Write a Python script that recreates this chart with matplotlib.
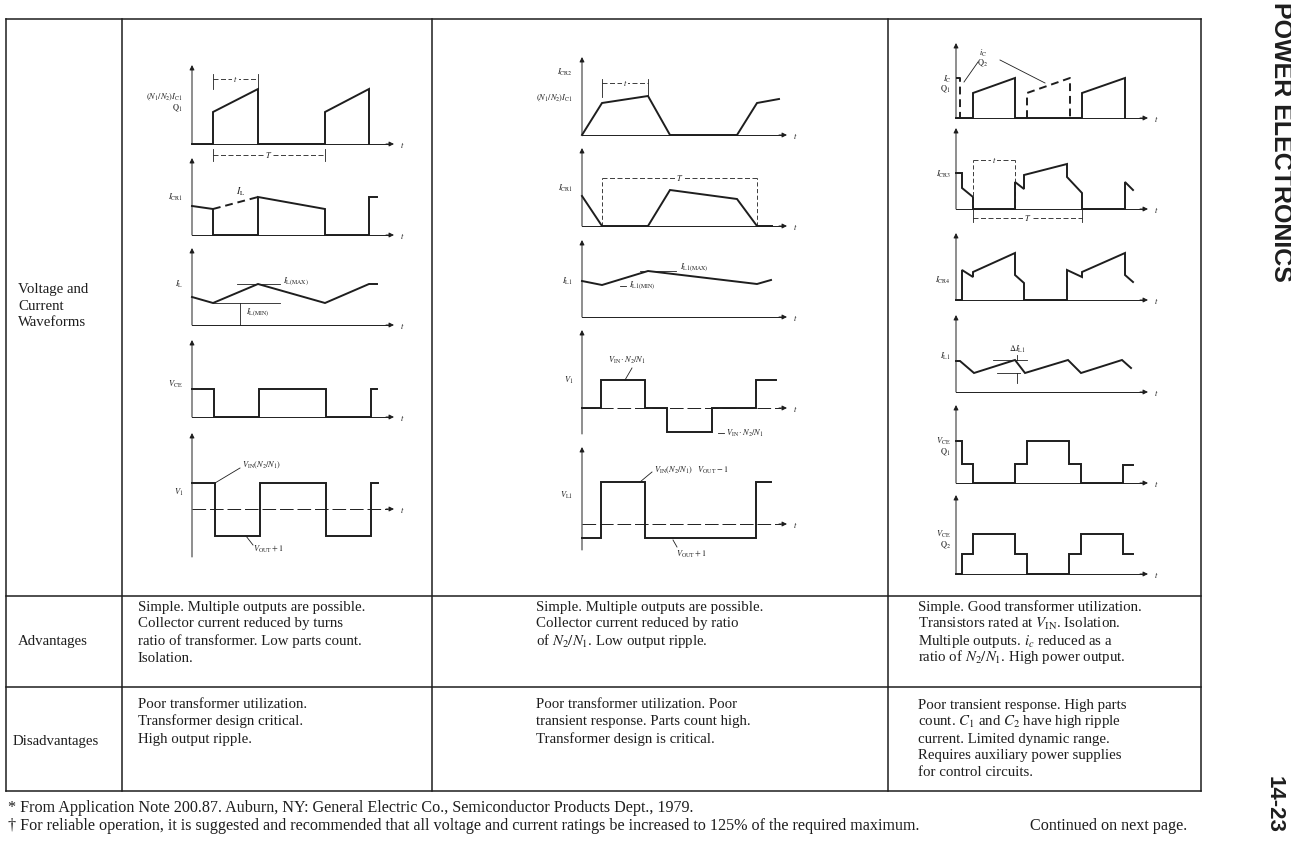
import matplotlib
matplotlib.use("Agg")
import matplotlib.pyplot as plt

W, H = 1291, 846
INK = '#1e1e1e'

plt.rcParams['font.family'] = ['Liberation Serif', 'DejaVu Serif']
plt.rcParams['mathtext.fontset'] = 'stix'

# ---------------- table text ----------------
row_titles = ["Voltage and", "Current", "Waveforms", "Advantages", "Disadvantages"]

adv_col1 = ["Simple. Multiple outputs are possible.",
            "Collector current reduced by turns",
            "ratio of transformer. Low parts count.",
            "Isolation."]
dis_col1 = ["Poor transformer utilization.",
            "Transformer design critical.",
            "High output ripple."]
adv_col2 = ["Simple. Multiple outputs are possible.",
            "Collector current reduced by ratio",
            r"of $N_2/N_1$. Low output ripple."]
dis_col2 = ["Poor transformer utilization. Poor",
            "transient response. Parts count high.",
            "Transformer design is critical."]
adv_col3 = ["Simple. Good transformer utilization.",
            r"Transistors rated at $V_{\rm IN}$. Isolation.",
            r"Multiple outputs. $i_c$ reduced as a",
            r"ratio of $N_2/N_1$. High power output."]
dis_col3 = ["Poor transient response. High parts",
            r"count. $C_1$ and $C_2$ have high ripple",
            "current. Limited dynamic range.",
            "Requires auxiliary power supplies",
            "for control circuits."]

footnotes = ["* From Application Note 200.87. Auburn, NY: General Electric Co., Semiconductor Products Dept., 1979.",
             "\u2020 For reliable operation, it is suggested and recommended that all voltage and current ratings be increased to 125% of the required maximum."]
continued = "Continued on next page."
side_title = "POWER ELECTRONICS"
page_no = "14-23"

# ---------------- waveforms: time / level (arbitrary units) ----------------
# column 1
c1_ic_t = [0, 21, 21, 66, 66, 133, 133, 177, 177]
c1_ic_y = [0, 0, 32, 55, 0, 0, 32, 55, 0]
c1_icr1_t = [0, 21, 21, 66, 66, 133, 133, 177, 177, 185]
c1_icr1_y = [29, 26, 0, 0, 38, 26, 0, 0, 38, 38]
c1_icr1_dash_t = [21, 66]
c1_icr1_dash_y = [26, 38]
c1_il_t = [0, 21, 66, 133, 177, 185]
c1_il_y = [28, 22, 41, 22, 41, 41]
c1_vce_t = [0, 22, 22, 67, 67, 134, 134, 179, 179, 185]
c1_vce_y = [28, 28, 0, 0, 28, 28, 0, 0, 28, 28]
c1_v1_t = [0, 23, 23, 68, 68, 134, 134, 179, 179, 186]
c1_v1_y = [26, 26, -27, -27, 26, 26, -27, -27, 26, 26]

# column 2
c2_icr2_t = [0, 20, 66, 88, 155, 175, 197]
c2_icr2_y = [0, 32, 39, 0, 0, 32, 36]
c2_icr1_t = [0, 20, 66, 88, 155, 175, 190]
c2_icr1_y = [30, 0, 0, 36, 27, 0, 0]
c2_il1_t = [0, 20, 66, 175, 189]
c2_il1_y = [36, 32, 46, 33, 37]
c2_v1_t = [0, 19, 19, 63, 63, 85, 85, 130, 130, 174, 174, 194]
c2_v1_y = [0, 0, 28, 28, 0, 0, -24, -24, 0, 0, 28, 28]
c2_vl1_t = [0, 19, 19, 63, 63, 174, 174, 189]
c2_vl1_y = [-14, -14, 42, 42, -14, -14, 42, 42]

# column 3
c3_ic_t = [0, 17, 17, 59, 59, 126, 126, 169, 169]
c3_ic_y = [0, 0, 25, 40, 0, 0, 25, 40, 0]
c3_ic2_t = [71, 71, 114, 114]
c3_ic2_y = [0, 25, 40, 0]
c3_ic2_head_t = [0, 4, 4]
c3_ic2_head_y = [40, 40, 0]
c3_icr3_t = [0, 6, 6, 17, 17, 59, 59, 68, 68, 111, 111, 126, 126, 169, 169, 177]
c3_icr3_y = [36, 36, 21, 12, 0, 0, 27, 20, 34, 45, 32, 16, 0, 0, 27, 19]
c3_icr4_t = [0, 6, 6, 17, 17, 59, 59, 68, 68, 111, 111, 126, 126, 169, 169, 177]
c3_icr4_y = [0, 0, 30, 23, 28, 47, 25, 17, 0, 0, 30, 23, 28, 47, 25, 18]
c3_il1_t = [0, 4, 18, 59, 69, 112, 125, 166, 175]
c3_il1_y = [31, 31, 19, 32, 19, 32, 19, 32, 24]
c3_vce1_t = [0, 6, 6, 17, 17, 59, 59, 71, 71, 113, 113, 125, 125, 167, 167, 177]
c3_vce1_y = [42, 42, 19, 19, 0, 0, 19, 19, 42, 42, 19, 19, 0, 0, 18, 18]
c3_vce2_t = [0, 6, 6, 17, 17, 59, 59, 71, 71, 113, 113, 125, 125, 167, 167, 177]
c3_vce2_y = [0, 0, 20, 20, 40, 40, 20, 20, 0, 0, 20, 20, 40, 40, 20, 20]

# thin annotation segments ((t0, y0), (t1, y1))
c1_il_marks = [((45, 41), (88, 41)), ((21, 22), (88, 22)), ((48, 0), (48, 22))]
c1_v1_marks = [((23, 26), (48, 41)), ((54, -27), (61, -36))]
c2_il1_marks = [((58, 46), (94, 46)), ((38, 31), (44, 31))]
c2_v1_marks = [((43, 28), (50, 40)), ((136, -25), (142, -25))]
c2_vl1_marks = [((58, 42), (70, 52)), ((91, -16), (95, -23))]
c3_ic_marks = [((8, 36), (22, 56)), ((44, 58), (89, 35))]
c3_il1_marks = [((37, 32), (71, 32)), ((41, 19), (64, 19)), ((61, 32), (61, 37)), ((61, 19), (61, 9))]

# ---------------- layout (pixels) ----------------
col_x = [6, 122, 432, 888, 1201]
row_y = [19, 596, 687, 791]

fig = plt.figure(figsize=(W / 100, H / 100), dpi=100)
bg = fig.add_axes([0, 0, 1, 1])
bg.set_xlim(0, W)
bg.set_ylim(H, 0)
bg.axis('off')

for x in col_x:
    bg.plot([x, x], [row_y[0], row_y[-1]], color=INK, lw=1.1)
for y in row_y:
    bg.plot([col_x[0], col_x[-1]], [y, y], color=INK, lw=1.1)

fs = 10.7
fs_note = 11.6
base = 4.5   # baseline offset below the line centre


def put(x, y, s, size=fs):
    bg.text(x, y + base, s, fontsize=size, va='baseline', ha='left', color=INK)


for s, y in zip(row_titles[:3], [289, 305, 321]):
    put(18, y, s)
put(18, 641, row_titles[3])
put(13, 741, row_titles[4])

for lines, x, y0 in [(adv_col1, 138, 606), (dis_col1, 138, 704),
                     (adv_col2, 536, 606), (dis_col2, 536, 704),
                     (adv_col3, 918, 606), (dis_col3, 918, 704)]:
    for i, s in enumerate(lines):
        put(x, y0 + 17 * i, s)

put(8, 808, footnotes[0], fs_note)
put(8, 826, footnotes[1], fs_note)
put(1030, 826, continued, fs_note)

bg.text(1281, 142, side_title, rotation=-90, fontsize=18, fontweight='bold',
        family='Liberation Sans', ha='center', va='center', color=INK)
bg.text(1274, 804, page_no, rotation=-90, fontsize=16, fontweight='bold',
        family='Liberation Sans', ha='center', va='center', color=INK)


def panel(x0, y0, top, w, bottom=None, dashed=False):
    """Small waveform axes, one data unit = one pixel, origin at (x0, y0)."""
    up = y0 - top
    down = 0 if bottom is None else bottom - y0
    ax = fig.add_axes([(x0 - 80) / W, 1 - (y0 + 70) / H, (w + 100) / W, (up + 80) / H])
    ax.set_xlim(-80, w + 20)
    ax.set_ylim(-70, up + 10)
    ax.axis('off')
    ax.annotate('', xy=(0, up), xytext=(0, -down),
                arrowprops=dict(arrowstyle='-|>', lw=0.7, color=INK, mutation_scale=7,
                                shrinkA=0, shrinkB=0), annotation_clip=False)
    ax.plot([0, w - 6], [0, 0], color=INK, lw=0.7, ls=(0, (14, 4)) if dashed else '-',
            clip_on=False)
    ax.annotate('', xy=(w, 0), xytext=(w - 8, 0),
                arrowprops=dict(arrowstyle='-|>', lw=0.7, color=INK, mutation_scale=7,
                                shrinkA=0, shrinkB=0), annotation_clip=False)
    ax.text(w + 6, -1, '$t$', fontsize=6, va='center', ha='left', color=INK)
    return ax


def wave(ax, t, y, dashed=False):
    ax.plot(t, y, color=INK, lw=1.4, ls=(0, (4, 2.5)) if dashed else '-',
            solid_joinstyle='miter', clip_on=False)


def marks(ax, segs):
    for (a, b) in segs:
        ax.plot([a[0], b[0]], [a[1], b[1]], color=INK, lw=0.6, clip_on=False)


def label(ax, x, y, s, ha='right', size=6):
    ax.text(x, y, s, fontsize=size, ha=ha, va='center', color=INK)


def dim(ax, t0, t1, y, s, lo, hi, dashed_ticks=False):
    ax.plot([t0, t1], [y, y], color=INK, lw=0.6, ls=(0, (6, 3)), clip_on=False)
    for t in (t0, t1):
        ax.plot([t, t], [lo, hi], color=INK, lw=0.6,
                ls=(0, (5, 3)) if dashed_ticks else '-', clip_on=False)
    ax.text((t0 + t1) / 2, y, s, fontsize=6, ha='center', va='center', color=INK,
            bbox=dict(fc='white', ec='none', pad=0.6))


# ---- column 1
ax = panel(192, 144, 65, 202)
wave(ax, c1_ic_t, c1_ic_y)
dim(ax, 21, 66, 65, '$t$', 55, 70)
dim(ax, 21, 133, -11, '$T$', -17, -5)
label(ax, -9, 47, r'$(N_1/N_2)I_{\rm C1}$')
label(ax, -9, 36, r'$\rm Q_1$')

ax = panel(192, 235, 158, 202)
wave(ax, c1_icr1_t, c1_icr1_y)
wave(ax, c1_icr1_dash_t, c1_icr1_dash_y, dashed=True)
label(ax, -9, 38, r'$I_{\rm CR1}$')
label(ax, 44, 43, r'$I_{\rm L}$', ha='left', size=7)

ax = panel(192, 325, 248, 202)
wave(ax, c1_il_t, c1_il_y)
marks(ax, c1_il_marks)
label(ax, -9, 41, r'$I_{\rm L}$')
label(ax, 91, 43, r'$I_{\rm L(MAX)}$', ha='left')
label(ax, 54, 12, r'$I_{\rm L(MIN)}$', ha='left')

ax = panel(192, 417, 340, 202)
wave(ax, c1_vce_t, c1_vce_y)
label(ax, -9, 33, r'$V_{\rm CE}$')

ax = panel(192, 509, 433, 202, bottom=557, dashed=True)
wave(ax, c1_v1_t, c1_v1_y)
marks(ax, c1_v1_marks)
label(ax, -9, 17, r'$V_1$')
label(ax, 50, 44, r'$V_{\rm IN}(N_2/N_1)$', ha='left')
label(ax, 61, -40, r'$V_{\rm OUT}+1$', ha='left')

# ---- column 2
ax = panel(582, 135, 57, 205)
wave(ax, c2_icr2_t, c2_icr2_y)
dim(ax, 20, 66, 52, '$t$', 38, 56)
label(ax, -9, 63, r'$I_{\rm CR2}$')
label(ax, -9, 37, r'$(N_1/N_2)I_{\rm C1}$')

ax = panel(582, 226, 148, 205)
wave(ax, c2_icr1_t, c2_icr1_y)
dim(ax, 20, 175, 48, '$T$', 0, 48, dashed_ticks=True)
label(ax, -9, 38, r'$I_{\rm CR1}$')

ax = panel(582, 317, 240, 205)
wave(ax, c2_il1_t, c2_il1_y)
marks(ax, c2_il1_marks)
label(ax, -9, 36, r'$I_{\rm L1}$')
label(ax, 98, 49, r'$I_{\rm L1(MAX)}$', ha='left')
label(ax, 47, 31, r'$I_{\rm L1(MIN)}$', ha='left')

ax = panel(582, 408, 330, 205, bottom=434, dashed=True)
wave(ax, c2_v1_t, c2_v1_y)
marks(ax, c2_v1_marks)
label(ax, -9, 28, r'$V_1$')
label(ax, 26, 48, r'$V_{\rm IN}\cdot N_2/N_1$', ha='left')
label(ax, 144, -25, r'$V_{\rm IN}\cdot N_2/N_1$', ha='left')

ax = panel(582, 524, 447, 205, bottom=550, dashed=True)
wave(ax, c2_vl1_t, c2_vl1_y)
marks(ax, c2_vl1_marks)
label(ax, -9, 29, r'$V_{\rm L1}$')
label(ax, 72, 54, r'$V_{\rm IN}(N_2/N_1)\quad V_{\rm OUT}-1$', ha='left')
label(ax, 94, -30, r'$V_{\rm OUT}+1$', ha='left')

# ---- column 3
ax = panel(956, 118, 43, 192)
wave(ax, c3_ic_t, c3_ic_y)
wave(ax, c3_ic2_t, c3_ic2_y, dashed=True)
wave(ax, c3_ic2_head_t, c3_ic2_head_y, dashed=True)
marks(ax, c3_ic_marks)
label(ax, -5, 39, r'$I_{\rm C}$')
label(ax, -5, 29, r'$\rm Q_1$')
label(ax, 27, 65, r'$i_{\rm C}$', ha='center')
label(ax, 27, 55, r'$\rm Q_2$', ha='center')

ax = panel(956, 209, 128, 192)
wave(ax, c3_icr3_t, c3_icr3_y)
dim(ax, 17, 59, 49, '$t$', 0, 49, dashed_ticks=True)
dim(ax, 17, 126, -9, '$T$', -13, 0)
label(ax, -5, 35, r'$I_{\rm CR3}$')

ax = panel(956, 300, 233, 192)
wave(ax, c3_icr4_t, c3_icr4_y)
label(ax, -5, 20, r'$I_{\rm CR4}$')

ax = panel(956, 392, 315, 192)
wave(ax, c3_il1_t, c3_il1_y)
marks(ax, c3_il1_marks)
label(ax, -5, 36, r'$I_{\rm L1}$')
label(ax, 61, 43, r'$\Delta I_{\rm L1}$', ha='center')

ax = panel(956, 483, 405, 192)
wave(ax, c3_vce1_t, c3_vce1_y)
label(ax, -5, 42, r'$V_{\rm CE}$')
label(ax, -5, 31, r'$\rm Q_1$')

ax = panel(956, 574, 495, 192)
wave(ax, c3_vce2_t, c3_vce2_y)
label(ax, -5, 40, r'$V_{\rm CE}$')
label(ax, -5, 29, r'$\rm Q_2$')

fig.savefig('out.png', dpi=100, facecolor='white')
